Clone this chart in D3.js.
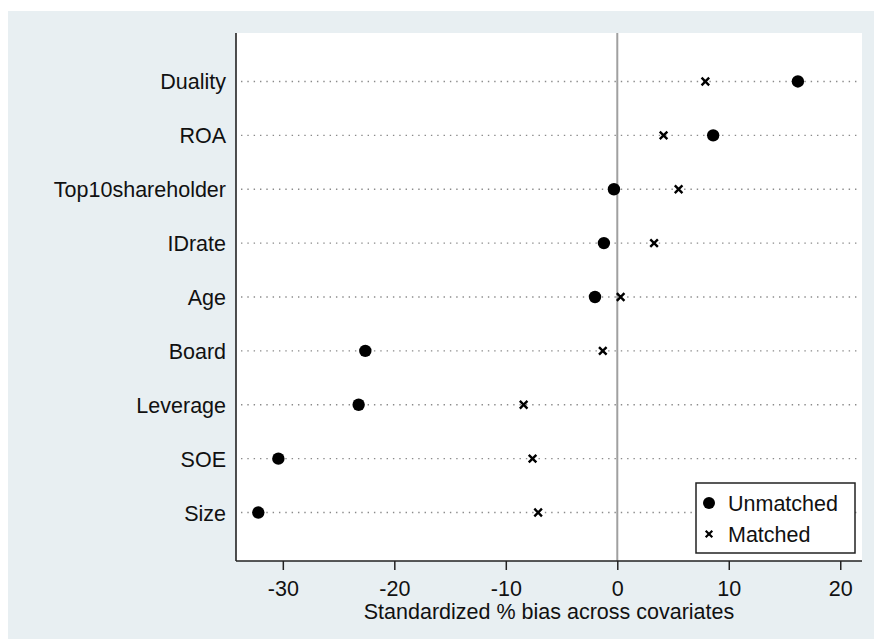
<!DOCTYPE html>
<html>
<head>
<meta charset="utf-8">
<script src="https://cdn.jsdelivr.net/npm/d3@7"></script>
<style>
  html, body { margin: 0; padding: 0; background: #ffffff; }
  svg { display: block; }
  text { font-family: "Liberation Sans", Arial, sans-serif; fill: #111; }
</style>
</head>
<body>
<svg id="chart" width="874" height="639"></svg>
<script>
// ---- data ----
const categories = ["Duality", "ROA", "Top10shareholder", "IDrate", "Age", "Board", "Leverage", "SOE", "Size"];
const unmatched  = [16.2, 8.6, -0.3, -1.2, -2.0, -22.6, -23.2, -30.4, -32.2];
const matched    = [7.9, 4.15, 5.5, 3.3, 0.3, -1.3, -8.4, -7.6, -7.1];
const xTicks     = [-30, -20, -10, 0, 10, 20];
const xTitle     = "Standardized % bias across covariates";
const legendLabels = ["Unmatched", "Matched"];

// ---- layout ----
const W = 874, H = 639;
const bg = { x: 8, y: 11, w: W - 8, h: H - 11 };
const plot = { left: 236, right: 862, top: 33, bottom: 561 };
const FS = 21.5;

const svg = d3.select("#chart");

svg.append("rect").attr("x", bg.x).attr("y", bg.y).attr("width", bg.w).attr("height", bg.h)
  .attr("fill", "#e8eff2");
svg.append("rect").attr("x", plot.left).attr("y", plot.top)
  .attr("width", plot.right - plot.left).attr("height", plot.bottom - plot.top)
  .attr("fill", "#ffffff");

const x = d3.scaleLinear().domain([-34.2, 21.95]).range([plot.left, plot.right]);
const y = d3.scalePoint().domain(categories).range([plot.top, plot.bottom]).padding(0.9);

// dotted gridlines
svg.append("g").selectAll("line").data(categories).join("line")
  .attr("x1", plot.left + 5).attr("x2", plot.right - 4)
  .attr("y1", d => y(d)).attr("y2", d => y(d))
  .attr("stroke", "#8a8a8a").attr("stroke-width", 1.4)
  .attr("stroke-dasharray", "1.4 4.93");

// zero reference line
svg.append("line")
  .attr("x1", x(0)).attr("x2", x(0))
  .attr("y1", plot.top).attr("y2", plot.bottom)
  .attr("stroke", "#a0a0a0").attr("stroke-width", 2);

// y axis line
svg.append("line").attr("x1", plot.left).attr("x2", plot.left)
  .attr("y1", plot.top).attr("y2", plot.bottom)
  .attr("stroke", "#222").attr("stroke-width", 1.6);

// y labels
svg.append("g").selectAll("text").data(categories).join("text")
  .attr("x", plot.left - 10).attr("y", d => y(d) + 8)
  .attr("text-anchor", "end").attr("font-size", FS)
  .text(d => d);

// x axis
const xAxis = d3.axisBottom(x).tickValues(xTicks).tickSize(9).tickPadding(6).tickFormat(d3.format("d"));
const gx = svg.append("g").attr("transform", `translate(0,${plot.bottom})`).call(xAxis);
gx.select(".domain").attr("stroke", "#222").attr("stroke-width", 1.6)
  .attr("d", `M${plot.left},0H${plot.right}`);
gx.selectAll(".tick line").attr("stroke", "#222").attr("stroke-width", 1.5);
gx.selectAll(".tick text")
  .attr("font-family", "Liberation Sans, Arial, sans-serif")
  .attr("font-size", FS).attr("fill", "#111")
  .attr("dy", null).attr("y", 35);
gx.selectAll(".tick text").text(d => d < 0 ? "-" + Math.abs(d) : d);

// x title
svg.append("text")
  .attr("x", (plot.left + plot.right) / 2).attr("y", 619)
  .attr("text-anchor", "middle").attr("font-size", FS)
  .text(xTitle);

// markers
const rows = categories.map((c, i) => ({ c, u: unmatched[i], m: matched[i] }));
svg.append("g").selectAll("circle").data(rows).join("circle")
  .attr("cx", d => x(d.u)).attr("cy", d => y(d.c)).attr("r", 6.2)
  .attr("fill", "#000");

function crossPath(cx, cy, s) {
  return `M${cx - s},${cy - s}L${cx + s},${cy + s}M${cx - s},${cy + s}L${cx + s},${cy - s}`;
}
svg.append("g").selectAll("path").data(rows).join("path")
  .attr("d", d => crossPath(x(d.m), y(d.c), 3.8))
  .attr("stroke", "#000").attr("stroke-width", 2.4).attr("fill", "none");

// legend
const lg = svg.append("g");
lg.append("rect").attr("x", 696).attr("y", 483).attr("width", 159).attr("height", 70)
  .attr("fill", "#fff").attr("stroke", "#222").attr("stroke-width", 1.5);
lg.append("circle").attr("cx", 709).attr("cy", 503).attr("r", 6).attr("fill", "#000");
lg.append("path").attr("d", crossPath(709, 534, 3.3))
  .attr("stroke", "#000").attr("stroke-width", 2.2).attr("fill", "none");
lg.append("text").attr("x", 728).attr("y", 511).attr("font-size", FS).text(legendLabels[0]);
lg.append("text").attr("x", 728).attr("y", 542).attr("font-size", FS).text(legendLabels[1]);
</script>
</body>
</html>
